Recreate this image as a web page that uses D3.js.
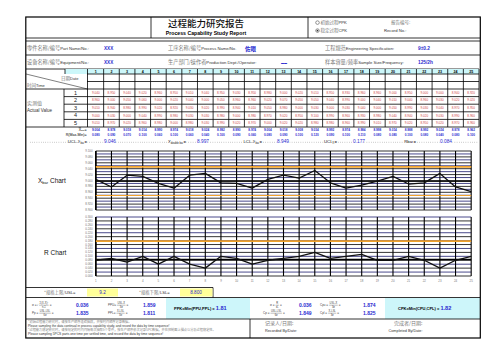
<!DOCTYPE html>
<html><head><meta charset="utf-8">
<script src="https://cdn.jsdelivr.net/npm/d3@7"></script>
<style>body{margin:0;background:#fff}svg{display:block}</style>
</head><body><svg id="c" width="503" height="356"></svg>
<script>
// ---------------- data ----------------
const subgroups = [1,2,3,4,5,6,7,8,9,10,11,12,13,14,15,16,17,18,19,20,21,22,23,24,25];
const sampleRows = ["1","2","3","4","5"];
const row1 = [9.040,8.950,9.040,9.020,8.960,8.950,9.010,9.040,8.950,9.030,8.950,8.980,9.000,9.020,9.010,8.950,8.930,8.960,8.960,9.000,8.950,9.000,9.000,8.940,8.920];
const row2 = [8.960,9.000,9.050,9.060,9.000,9.020,9.040,9.000,9.050,8.960,8.960,9.020,9.070,9.050,9.050,9.040,8.990,9.000,9.040,9.010,9.040,8.960,9.030,9.020,9.020];
const row3 = [9.010,8.940,8.980,8.990,9.020,8.920,9.030,9.020,8.990,8.940,9.010,9.050,8.980,9.000,9.030,9.000,9.030,9.040,9.000,9.050,8.990,9.030,9.040,8.970,8.950];
const row4 = [9.000,9.030,9.000,9.040,8.990,8.980,9.030,9.030,8.980,9.000,8.980,8.970,9.020,8.950,9.100,8.990,8.960,8.930,8.980,9.040,8.940,9.020,9.030,8.990,8.960];
const row5 = [9.010,8.970,9.020,8.960,8.980,9.000,8.980,9.030,8.990,9.020,8.970,9.000,9.020,9.020,8.980,8.980,8.960,8.990,9.010,8.970,9.020,8.950,9.020,8.970,8.960];
const xbarValues = [9.004,8.978,9.018,9.014,8.990,8.974,9.018,9.024,8.992,8.990,8.974,9.004,9.018,9.008,9.034,8.992,8.974,8.984,8.998,9.014,8.988,8.992,9.024,8.978,8.962];
const rangeValues = [0.080,0.090,0.070,0.100,0.060,0.100,0.060,0.040,0.100,0.090,0.060,0.080,0.090,0.100,0.120,0.090,0.100,0.110,0.080,0.080,0.100,0.080,0.040,0.080,0.100];
const xChartTicks = [8.900,8.920,8.940,8.960,8.980,9.000,9.020,9.040,9.060,9.080,9.100];
const xChartGrid = [8.900,8.910,8.920,8.930,8.940,8.950,8.960,8.970,8.980,8.990,9.000,9.010,9.020,9.030,9.040,9.050,9.060,9.070,9.080,9.090,9.100];
const rChartTicks = [0.000,0.020,0.040,0.060,0.080,0.100,0.120,0.140,0.160,0.180,0.200,0.220,0.240,0.260,0.280,0.300];
const controlLabels = ["UCL", "Xdbar", "LCL", "UCLR", "Rbar"];
const controlValues = [9.046, 8.997, 8.949, 0.177, 0.084];
const specLabels = ["USL", "LSL"];
const specValues = ["9.2", "8.800"];
const ppStats = [0.036, 1.859, 1.835, 1.811, 1.81];   // sigma, PPU, Pp, PPL, PPK
const cpStats = [0.036, 1.874, 1.849, 1.825, 1.82];   // sigma, CPU, Cp, CPL, CPK

// ---------------- helpers ----------------
const SANS = "'Liberation Sans', Arial, sans-serif";
const CJK = "'Noto Sans CJK SC', sans-serif";
const BLUE = "#2b2bd0";
const svg = d3.select('#c');
function txt(x, y, s, o = {}) {
  const e = svg.append('text').attr('x', x).attr('y', y)
    .attr('font-family', o.ff || SANS).attr('font-size', o.fs || 4)
    .attr('fill', o.fill || '#000').attr('text-anchor', o.a || 'start');
  if (o.fw) e.attr('font-weight', o.fw);
  if (s != null) e.text(s);
  return e;
}
function mixed(x, y, cn, en, o = {}) {
  const e = txt(x, y, null, { a: o.a });
  e.append('tspan').attr('font-family', CJK).attr('font-size', o.cfs || 5.2).attr('fill', '#7a7a7a').text(cn);
  e.append('tspan').attr('font-family', SANS).attr('font-size', o.efs || 4.2).attr('fill', '#333').text(en);
  return e;
}
function ln(x1, y1, x2, y2, o = {}) {
  const l = svg.append('line').attr('x1', x1).attr('y1', y1).attr('x2', x2).attr('y2', y2)
    .attr('stroke', o.c || '#000').attr('stroke-width', o.w || 0.8);
  if (o.dash) l.attr('stroke-dasharray', o.dash);
  return l;
}
function rect(x, y, w, h, fill) {
  svg.append('rect').attr('x', x).attr('y', y).attr('width', w).attr('height', h).attr('fill', fill);
}
function formula(x, y, lhs, num, den) {
  const fs = 3;
  const a = txt(x, y, lhs, { fs, fill: '#444' });
  const w = a.node().getComputedTextLength();
  const n = txt(0, y - 1.6, num, { fs: 2.6, fill: '#444', a: 'middle' });
  const d = txt(0, y + 2.4, den, { fs: 2.6, fill: '#444', a: 'middle' });
  const fw = Math.max(n.node().getComputedTextLength(), d.node().getComputedTextLength()) + 1;
  const fx = x + w + 1;
  n.attr('x', fx + fw / 2); d.attr('x', fx + fw / 2);
  ln(fx, y - 0.8, fx + fw, y - 0.8, { w: 0.35, c: '#444' });
  txt(fx + fw + 1, y, '=', { fs, fill: '#444' });
}

// ---------------- frame & header ----------------
rect(26, 17, 454, 321, '#fff');
ln(151, 17, 151, 38); ln(308, 17, 308, 38);
ln(26, 38, 480, 38); ln(26, 41, 480, 41);
ln(26, 55, 480, 55); ln(26, 69, 479, 69);
txt(206, 26.5, '过程能力研究报告', { ff: CJK, fs: 9.5, a: 'middle', fw: 500, fill: '#111' });
txt(206, 35, 'Process Capability Study Report', { fs: 5.2, a: 'middle', fw: 'bold' });
svg.append('circle').attr('cx', 317.5).attr('cy', 22.6).attr('r', 1.8).attr('fill', 'none').attr('stroke', '#333').attr('stroke-width', 0.5);
svg.append('circle').attr('cx', 317.5).attr('cy', 30.6).attr('r', 1.8).attr('fill', 'none').attr('stroke', '#333').attr('stroke-width', 0.5);
svg.append('circle').attr('cx', 317.5).attr('cy', 30.6).attr('r', 0.9).attr('fill', '#333');
mixed(320.5, 24.3, '初始过程', 'PPK', { cfs: 4.5, efs: 4.2 });
mixed(320.5, 32.3, '稳定过程', 'CPK', { cfs: 4.5, efs: 4.2 });
txt(391, 24.3, '报告编号:', { ff: CJK, fs: 4.5, fill: '#777' });
txt(384, 32.3, 'Record No.:', { fs: 4.2, fill: '#333' });

mixed(27, 50, '零件名称/编号', 'Part Name/No.:');
txt(104, 50, 'XXX', { fs: 4.6, fw: 'bold', fill: BLUE });
mixed(168, 50, '工序名称/编号', 'Process Name/No.');
txt(245, 50.5, '佐眼', { ff: CJK, fs: 5.5, fw: 'bold', fill: BLUE });
mixed(325, 50, '工程规范', 'Engineering Specification:');
txt(418, 49.8, '9±0.2', { fs: 4.8, fw: 'bold', fill: BLUE });

mixed(27, 64, '设备名称/编号', 'Equipment/No.:');
txt(104, 64, 'XXX', { fs: 4.6, fw: 'bold', fill: BLUE });
mixed(168, 64, '生产部门/操作者', 'Production Dept./Operator:');
txt(281, 63.5, '▬▬', { fs: 3, fill: BLUE });
mixed(325, 64, '样本容量/频率', 'Sample Size/Frequency:');
txt(418, 63.8, '125/2h', { fs: 4.8, fw: 'bold', fill: BLUE });

// ---------------- data table ----------------
const band = d3.scaleBand().domain(subgroups).range([88, 479]).padding(0);
const bw = band.bandwidth();
rect(65, 69, 414, 5, '#ccf7fa');
const rowTops = [89, 96.6, 104.2, 111.8, 119.4];
const rowH = 7.6;
// horizontal table lines
ln(87, 74, 479, 74); ln(87, 81.5, 479, 81.5); ln(26, 89, 479, 89);
rowTops.slice(1).forEach(y => ln(64, y, 479, y));
ln(26, 127, 479, 127);
// vertical lines
ln(64, 89, 64, 127); ln(87.5, 69, 87.5, 127);
subgroups.forEach(d => ln(band(d) + bw, 69, band(d) + bw, 127));
ln(65, 69, 65, 74);
ln(26, 74, 87.5, 89, { w: 0.5 });
txt(61, 79.5, null).call(e => {
  e.append('tspan').attr('font-family', CJK).attr('font-size', 4.5).attr('fill', '#777').text('日期');
  e.append('tspan').attr('font-size', 4).attr('fill', '#333').text('Date');
});
txt(27, 87.3, null).call(e => {
  e.append('tspan').attr('font-family', CJK).attr('font-size', 4.5).attr('fill', '#777').text('时间');
  e.append('tspan').attr('font-size', 4).attr('fill', '#333').text('Time');
});
txt(27, 104.5, '实测值', { ff: CJK, fs: 5, fill: '#777' });
txt(27, 111.5, 'Actual Value', { fs: 4.5, fill: '#333' });
subgroups.forEach(d => txt(band(d) + bw / 2, 73, d, { fs: 3.6, fw: 'bold', a: 'middle' }));
sampleRows.forEach((r, i) => txt(75.5, rowTops[i] + 5.6, r, { fs: 5.5, a: 'middle', fill: '#222' }));
[row1, row2, row3, row4, row5].forEach((row, i) => {
  row.forEach((v, j) => txt(band(subgroups[j]) + bw / 2, rowTops[i] + 4.8, v.toFixed(3), { fs: 3.1, a: 'middle', fill: '#d04848' }));
});
// Xbar and R rows
txt(86.5, 130.6, null, { a: 'end', fs: 3.6 }).call(e => {
  e.append('tspan').attr('text-decoration', 'overline').text('X');
  e.append('tspan').attr('font-size', 2.3).attr('dy', 0.8).text('bar');
  e.append('tspan').attr('dy', -0.8).text('=');
});
txt(86.5, 135.6, 'R(Max-Min)=', { a: 'end', fs: 3.6 });
xbarValues.forEach((v, j) => txt(band(subgroups[j]) + bw / 2, 130.6, v.toFixed(3), { fs: 3.1, a: 'middle', fw: 'bold', fill: BLUE }));
rangeValues.forEach((v, j) => txt(band(subgroups[j]) + bw / 2, 135.6, v.toFixed(3), { fs: 3.1, a: 'middle', fw: 'bold', fill: BLUE }));

// control-limit row
ln(30, 142.3, 478, 142.3, { c: '#555', w: 0.5, dash: '0.6,1.6' });
function ctrlLabel(x, main, sub, tail) {
  const e = txt(x, 143, null, { a: 'end', fs: 4.3, fill: '#111' });
  e.attr('paint-order', 'stroke').attr('stroke', '#fff').attr('stroke-width', 1.6);
  e.append('tspan').text(main);
  if (sub) e.append('tspan').attr('font-size', 2.7).attr('dy', 0.9).text(sub);
  e.append('tspan').attr('dy', sub ? -0.9 : 0).text(tail);
}
function ctrlVal(x, v) {
  txt(x, 143, v.toFixed(3), { fs: 4.8, fill: BLUE }).attr('paint-order', 'stroke').attr('stroke', '#fff').attr('stroke-width', 1.6);
}
ctrlLabel(87, 'UCL-X', 'bar', '=');   ctrlVal(104, controlValues[0]);
ctrlLabel(186, 'X', 'double bar', '='); ctrlVal(197, controlValues[1]);
ctrlLabel(262, 'LCL-X', 'bar', '=');  ctrlVal(277, controlValues[2]);
ctrlLabel(337, 'UCL', 'R', '=');      ctrlVal(353, controlValues[3]);
ctrlLabel(416, 'Rbar', null, '=');    ctrlVal(440, controlValues[4]);

// ---------------- charts ----------------
const xPos = d3.scalePoint().domain(subgroups).range([band(1) + bw / 2, band(25) + bw / 2]);
const yX = d3.scaleLinear().domain([8.9, 9.1]).range([210, 151]);
const yR = d3.scaleLinear().domain([0, 0.3]).range([276, 217]);
const x0 = xPos(1), x1 = xPos(25);

// X chart grid
xChartGrid.forEach((v, i) => ln(x0, yX(v), x1, yX(v), { c: i % 2 ? '#1c1c6e' : '#000', w: 0.8 }));
rChartTicks.forEach((v, i) => ln(x0, yR(v), x1, yR(v), { c: i % 2 ? '#1c1c6e' : '#000', w: 0.8 }));
subgroups.forEach(d => {
  ln(xPos(d), 151, xPos(d), 210, { w: 1.1 });
  ln(xPos(d), 217, xPos(d), 276, { w: 1.1 });
});
ln(x0, 151, x0, 210, { w: 1.5 }); ln(x0, 217, x0, 276, { w: 1.5 });
// axis labels
xChartTicks.forEach(v => txt(92.5, yX(v) + 1, v.toFixed(3), { fs: 2.9, a: 'end', fill: '#777' }));
rChartTicks.forEach(v => txt(92.5, yR(v) + 1, v.toFixed(3), { fs: 2.9, a: 'end', fill: '#777' }));
subgroups.forEach(d => txt(xPos(d), 281.5, d, { fs: 2.9, a: 'middle', fill: '#777' }));
// limits
ln(x0, yX(controlValues[0]), x1, yX(controlValues[0]), { c: '#f0a22a', w: 1.8 });
ln(x0, yX(controlValues[2]), x1, yX(controlValues[2]), { c: '#f0a22a', w: 1.1 });
ln(x0, yX(controlValues[1]), x1, yX(controlValues[1]), { c: '#000', w: 1 });
ln(x0, yR(controlValues[3]), x1, yR(controlValues[3]), { c: '#f0a22a', w: 1.8 });
ln(x0, yR(controlValues[4]), x1, yR(controlValues[4]), { c: '#000', w: 1.5 });
// series lines
svg.append('path').attr('d', d3.line().x((v, i) => xPos(subgroups[i])).y(v => yX(v))(xbarValues))
  .attr('fill', 'none').attr('stroke', '#111').attr('stroke-width', 1.3).attr('stroke-linejoin', 'round');
svg.append('path').attr('d', d3.line().x((v, i) => xPos(subgroups[i])).y(v => yR(v))(rangeValues))
  .attr('fill', 'none').attr('stroke', '#111').attr('stroke-width', 1.3).attr('stroke-linejoin', 'round');
// chart titles
txt(38, 183, null, { fs: 6.5, fill: '#111' }).call(e => {
  e.append('tspan').text('X');
  e.append('tspan').attr('font-size', 4).attr('dy', 1.4).text('bar');
  e.append('tspan').attr('dy', -1.4).text(' Chart');
});
txt(44, 254.5, 'R Chart', { fs: 6.5, fill: '#111' });

// ---------------- spec row ----------------
ln(26, 287.5, 213, 287.5); ln(213, 287.5, 213, 297.5);
ln(26, 297.5, 480, 297.5);
rect(87, 288.5, 31, 8, '#ffff99');
rect(180, 288.5, 32.5, 8, '#ffff99');
mixed(44, 294.3, '*规格上限/', specLabels[0] + '=', { cfs: 4.3, efs: 4.2 });
txt(102.5, 294.3, specValues[0], { fs: 4.6, a: 'middle', fill: BLUE });
mixed(139, 294.3, '*规格下限/', specLabels[1] + '=', { cfs: 4.3, efs: 4.2 });
txt(196, 294.3, specValues[1], { fs: 4.6, a: 'middle', fill: BLUE });

// ---------------- capability section ----------------
rect(166, 298, 84, 21, '#cdf6fa');
rect(385, 298, 95, 21, '#cdf6fa');
formula(32, 306, 'σ =√', 'Σ(X-X̄)²', 'n-1');
formula(108, 306, 'PPU=', 'USL-X̄', '3σ');
formula(32, 314, 'Pp =', 'USL-LSL', '6σ');
formula(108, 314, 'PPL=', 'X̄-LSL', '3σ');
txt(76, 306.5, ppStats[0].toFixed(3), { fs: 5, fw: 'bold', fill: BLUE });
txt(143, 306.5, ppStats[1].toFixed(3), { fs: 5, fw: 'bold', fill: BLUE });
txt(76, 314.5, ppStats[2].toFixed(3), { fs: 5, fw: 'bold', fill: BLUE });
txt(143, 314.5, ppStats[3].toFixed(3), { fs: 5, fw: 'bold', fill: BLUE });
txt(174, 310, null).call(e => {
  e.append('tspan').attr('font-size', 4).attr('font-weight', 'bold').text('PPK=Min(PPU,PPL) = ');
  e.append('tspan').attr('font-size', 5.6).attr('font-weight', 'bold').attr('fill', BLUE).text(ppStats[4].toFixed(2));
});
formula(270, 306, 'σ =', 'R̄', 'd₂');
formula(320, 306, 'Cpu =', 'USL-X̄', '3σ');
formula(263, 314, 'Cp =', 'USL-LSL', '6σ');
formula(320, 314, 'Cpl =', 'X̄-LSL', '3σ');
txt(299, 306.5, cpStats[0].toFixed(3), { fs: 5, fw: 'bold', fill: BLUE });
txt(363, 306.5, cpStats[1].toFixed(3), { fs: 5, fw: 'bold', fill: BLUE });
txt(299, 314.5, cpStats[2].toFixed(3), { fs: 5, fw: 'bold', fill: BLUE });
txt(363, 314.5, cpStats[3].toFixed(3), { fs: 5, fw: 'bold', fill: BLUE });
txt(398, 310, null).call(e => {
  e.append('tspan').attr('font-size', 4).attr('font-weight', 'bold').text('CPK=Min(CPU,CPL) = ');
  e.append('tspan').attr('font-size', 5.6).attr('font-weight', 'bold').attr('fill', BLUE).text(cpStats[4].toFixed(2));
});

// ---------------- notes ----------------
ln(26, 319, 480, 319);
ln(250, 319, 250, 338);
txt(28, 322.5, '*初始过程能力研究时，请按生产顺序连续抽样，并按时间顺序记录数据。', { ff: CJK, fs: 3.2, fill: '#888' });
txt(28, 326.6, 'Please sampling the data continual in process capability study, and record the data by time sequence!', { fs: 3.15, fill: '#333' });
txt(28, 331.2, '*过程能力稳定研究时，请按规定的时间间隔每次抽取5个零件，按生产顺序依次记录SPC数据，并在控制图上描点以分析过程稳定性。', { ff: CJK, fs: 3.2, fill: '#888' });
txt(28, 335.4, 'Please sampling 5PCS parts one time per settled time, and record the data by time sequence!', { fs: 3.25, fill: '#333' });
txt(265, 325, '记录人/日期:', { ff: CJK, fs: 5, fill: '#777' });
txt(265, 331.5, 'Recorded By/Date:', { fs: 3.8, fill: '#333' });
txt(394, 325, '完成者/日期:', { ff: CJK, fs: 5, fill: '#777' });
txt(388.5, 331.5, 'Completed By/Date:', { fs: 3.8, fill: '#333' });

// outer frame
svg.append('rect').attr('x', 25.8).attr('y', 17).attr('width', 454.5).attr('height', 321)
  .attr('fill', 'none').attr('stroke', '#000').attr('stroke-width', 1.2);
</script></body></html>
